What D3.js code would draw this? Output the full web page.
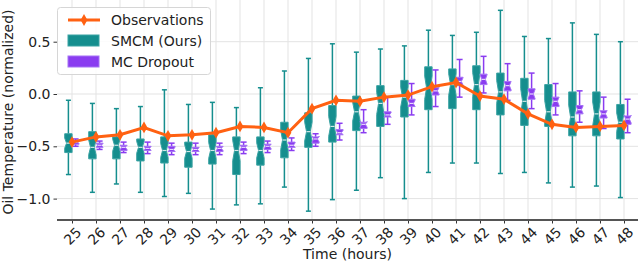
<!DOCTYPE html>
<html>
<head>
<meta charset="utf-8">
<script src="https://cdn.jsdelivr.net/npm/d3@7"></script>
<style>
  body { margin: 0; background: #fff; }
  text { font-family: "DejaVu Sans", sans-serif; fill: #222; }
</style>
</head>
<body>
<div id="chart"></div>
<script>
const width = 640, height = 263;

// hours on the x axis
const hours = [25, 26, 27, 28, 29, 30, 31, 32, 33, 34, 35, 36, 37, 38, 39, 40, 41, 42, 43, 44, 45, 46, 47, 48];

// observed oil temperature
const observations = [-0.46, -0.41, -0.39, -0.32, -0.40, -0.39, -0.37, -0.31, -0.32, -0.37, -0.14, -0.06,
  -0.07, -0.03, -0.01, 0.07, 0.11, -0.02, -0.05, -0.19, -0.29, -0.32, -0.31, -0.30];

// SMCM (Ours) box stats
const smcmLow = [-0.77, -0.94, -0.86, -0.94, -0.98, -0.95, -1.10, -1.06, -1.05, -0.89, -1.12, -1.01,
  -0.92, -0.80, -1.00, -0.75, -0.66, -0.66, -0.76, -0.75, -0.85, -0.89, -0.88, -0.99];
const smcmQ1 = [-0.56, -0.62, -0.62, -0.64, -0.66, -0.70, -0.67, -0.77, -0.68, -0.61, -0.51, -0.46,
  -0.35, -0.31, -0.22, -0.15, -0.14, -0.15, -0.20, -0.30, -0.31, -0.40, -0.40, -0.43];
const smcmMed = [-0.47, -0.51, -0.49, -0.51, -0.54, -0.55, -0.54, -0.54, -0.54, -0.44, -0.36, -0.31,
  -0.17, -0.09, -0.03, 0.06, 0.09, 0.09, 0.02, -0.07, -0.17, -0.22, -0.19, -0.27];
const smcmQ3 = [-0.38, -0.36, -0.41, -0.43, -0.41, -0.46, -0.39, -0.41, -0.41, -0.27, -0.18, -0.11,
  -0.02, 0.08, 0.13, 0.26, 0.24, 0.27, 0.20, 0.15, 0.09, 0.02, 0.02, -0.10];
const smcmHigh = [-0.06, -0.09, -0.14, -0.12, 0.04, -0.10, -0.08, -0.13, 0.06, 0.22, 0.34, 0.48,
  0.40, 0.43, 0.46, 0.61, 0.56, 0.59, 0.80, 0.55, 0.53, 0.68, 0.57, 0.50];

// MC Dropout box stats
const mcLow = [-0.50, -0.53, -0.56, -0.57, -0.58, -0.58, -0.58, -0.57, -0.56, -0.54, -0.50, -0.44,
  -0.37, -0.29, -0.20, -0.12, -0.03, 0.01, -0.06, -0.14, -0.20, -0.27, -0.33, -0.37];
const mcQ1 = [-0.48, -0.51, -0.54, -0.54, -0.55, -0.55, -0.55, -0.54, -0.53, -0.51, -0.47, -0.39,
  -0.33, -0.22, -0.12, -0.01, 0.08, 0.09, 0.03, -0.05, -0.12, -0.19, -0.23, -0.29];
const mcMed = [-0.46, -0.49, -0.51, -0.52, -0.53, -0.53, -0.52, -0.51, -0.50, -0.49, -0.43, -0.37,
  -0.29, -0.20, -0.09, 0.03, 0.12, 0.14, 0.08, 0.00, -0.07, -0.15, -0.19, -0.24];
const mcQ3 = [-0.45, -0.47, -0.49, -0.50, -0.50, -0.51, -0.50, -0.49, -0.48, -0.46, -0.41, -0.34,
  -0.27, -0.17, -0.05, 0.06, 0.16, 0.19, 0.12, 0.05, -0.03, -0.11, -0.16, -0.21];
const mcHigh = [-0.43, -0.45, -0.46, -0.46, -0.47, -0.47, -0.47, -0.46, -0.45, -0.42, -0.38, -0.28,
  -0.15, -0.03, 0.10, 0.23, 0.33, 0.36, 0.29, 0.20, 0.10, 0.03, -0.03, -0.05];

const yTicks = [-1.0, -0.5, 0.0, 0.5];

const teal = "#158e8e", tealEdge = "#3aa3a3";
const purple = "#8a3cf0", purpleEdge = "#a573f5";
const orange = "#ff6112";

const plotLeft = 57, plotRight = 638, plotTop = 0, plotBottom = 220;

const x = d3.scaleLinear().domain([25, 48]).range([72, 624]);
const y = d3.scaleLinear().domain([-1.2, 0.9]).range([219.52, -0.14]);

const svg = d3.select("#chart").append("svg")
    .attr("width", width)
    .attr("height", height);

// grid
svg.append("g").selectAll("line")
    .data(hours).join("line")
    .attr("x1", d => x(d)).attr("x2", d => x(d))
    .attr("y1", plotTop).attr("y2", plotBottom)
    .attr("stroke", "#e3e3e3").attr("stroke-width", 1);
svg.append("g").selectAll("line")
    .data(yTicks).join("line")
    .attr("x1", plotLeft).attr("x2", plotRight)
    .attr("y1", d => y(d)).attr("y2", d => y(d))
    .attr("stroke", "#e3e3e3").attr("stroke-width", 1);

// axes
const xAxis = svg.append("g")
    .attr("transform", `translate(0,${plotBottom})`)
    .call(d3.axisBottom(x).tickValues(hours).tickSize(3.5).tickFormat(d3.format("d")));
xAxis.select(".domain").remove();
xAxis.selectAll(".tick line").attr("stroke", "#333");
xAxis.selectAll(".tick text")
    .attr("font-size", 14)
    .attr("text-anchor", "middle")
    .attr("dy", null)
    .attr("y", 0)
    .attr("dominant-baseline", "central")
    .attr("transform", "translate(0,16) rotate(-45)");

const yAxis = svg.append("g")
    .attr("transform", `translate(${plotLeft},0)`)
    .call(d3.axisLeft(y).tickValues(yTicks).tickSize(3.5).tickPadding(3).tickFormat(d3.format(".1f")));
yAxis.select(".domain").remove();
yAxis.selectAll(".tick line").attr("stroke", "#333");
yAxis.selectAll(".tick text").attr("font-size", 14)
    .text(d => d3.format(".1f")(d).replace("-", "\u2212"));

svg.append("line")
    .attr("x1", plotLeft).attr("x2", plotRight)
    .attr("y1", plotBottom).attr("y2", plotBottom)
    .attr("stroke", "#555").attr("stroke-width", 2);

// labels
svg.append("text")
    .attr("x", (plotLeft + plotRight) / 2).attr("y", 259)
    .attr("text-anchor", "middle").attr("font-size", 14)
    .text("Time (hours)");
svg.append("text")
    .attr("transform", `translate(13,${(plotTop + plotBottom) / 2 + 2}) rotate(-90)`)
    .attr("text-anchor", "middle").attr("font-size", 14)
    .text("Oil Temperature (normalized)");

// box plots
function boxData(low, q1, med, q3, high) {
  return hours.map((h, i) => ({ h: h, low: low[i], q1: q1[i], med: med[i], q3: q3[i], high: high[i] }));
}

function drawBoxes(data, offset, boxW, notchRatio, fill, edge, capW) {
  const g = svg.append("g");
  const groups = g.selectAll("g").data(data).join("g");
  const cx = d => x(d.h + offset);
  // whiskers
  groups.append("line")
      .attr("x1", cx).attr("x2", cx)
      .attr("y1", d => y(d.q3)).attr("y2", d => y(d.high))
      .attr("stroke", fill).attr("stroke-width", 1.5);
  groups.append("line")
      .attr("x1", cx).attr("x2", cx)
      .attr("y1", d => y(d.q1)).attr("y2", d => y(d.low))
      .attr("stroke", fill).attr("stroke-width", 1.5);
  // caps
  groups.append("line")
      .attr("x1", d => cx(d) - capW / 2).attr("x2", d => cx(d) + capW / 2)
      .attr("y1", d => y(d.high)).attr("y2", d => y(d.high))
      .attr("stroke", fill).attr("stroke-width", 1.5);
  groups.append("line")
      .attr("x1", d => cx(d) - capW / 2).attr("x2", d => cx(d) + capW / 2)
      .attr("y1", d => y(d.low)).attr("y2", d => y(d.low))
      .attr("stroke", fill).attr("stroke-width", 1.5);
  // notched box
  groups.append("path")
      .attr("d", d => {
        const c = cx(d), hw = boxW / 2;
        const n = (d.q3 - d.q1) * notchRatio;
        const pts = [
          [c - hw, y(d.q1)], [c - hw, y(d.med - n)], [c - hw / 2, y(d.med)], [c - hw, y(d.med + n)],
          [c - hw, y(d.q3)], [c + hw, y(d.q3)], [c + hw, y(d.med + n)], [c + hw / 2, y(d.med)],
          [c + hw, y(d.med - n)], [c + hw, y(d.q1)]
        ];
        return d3.line()(pts) + "Z";
      })
      .attr("fill", fill).attr("stroke", edge).attr("stroke-width", 1);
  // median
  groups.append("line")
      .attr("x1", d => cx(d) - boxW / 4).attr("x2", d => cx(d) + boxW / 4)
      .attr("y1", d => y(d.med)).attr("y2", d => y(d.med))
      .attr("stroke", "#fff").attr("stroke-width", 1.2).attr("opacity", 0.8);
}

drawBoxes(boxData(smcmLow, smcmQ1, smcmMed, smcmQ3, smcmHigh), -0.15, 7.4, 0.27, teal, tealEdge, 5);
drawBoxes(boxData(mcLow, mcQ1, mcMed, mcQ3, mcHigh), 0.15, 7, 0.45, purple, purpleEdge, 6);

// observations
const diamond = d3.symbol().type(d3.symbolDiamond).size(40);
svg.append("path")
    .datum(observations)
    .attr("d", d3.line().x((d, i) => x(hours[i])).y(d => y(d)))
    .attr("fill", "none").attr("stroke", orange).attr("stroke-width", 3);
svg.append("g").selectAll("path")
    .data(observations).join("path")
    .attr("d", diamond)
    .attr("transform", (d, i) => `translate(${x(hours[i])},${y(d)})`)
    .attr("fill", orange);

// legend
const lg = svg.append("g");
lg.append("rect")
    .attr("x", 57.5).attr("y", 7.5).attr("width", 153).attr("height", 67).attr("rx", 3)
    .attr("fill", "#fff").attr("fill-opacity", 0.85)
    .attr("stroke", "#d6d6d6");
lg.append("line")
    .attr("x1", 68).attr("x2", 100).attr("y1", 20).attr("y2", 20)
    .attr("stroke", orange).attr("stroke-width", 3);
lg.append("path").attr("d", diamond).attr("transform", "translate(84,20)").attr("fill", orange);
lg.append("rect").attr("x", 68).attr("y", 35).attr("width", 31).attr("height", 11)
    .attr("fill", teal).attr("stroke", tealEdge);
lg.append("rect").attr("x", 68).attr("y", 56).attr("width", 31).attr("height", 11)
    .attr("fill", purple).attr("stroke", purpleEdge);
const legendText = ["Observations", "SMCM (Ours)", "MC Dropout"];
lg.selectAll("text.lab").data(legendText).join("text")
    .attr("class", "lab")
    .attr("x", 111).attr("y", (d, i) => 25 + i * 21)
    .attr("font-size", 14)
    .text(d => d);
</script>
</body>
</html>
